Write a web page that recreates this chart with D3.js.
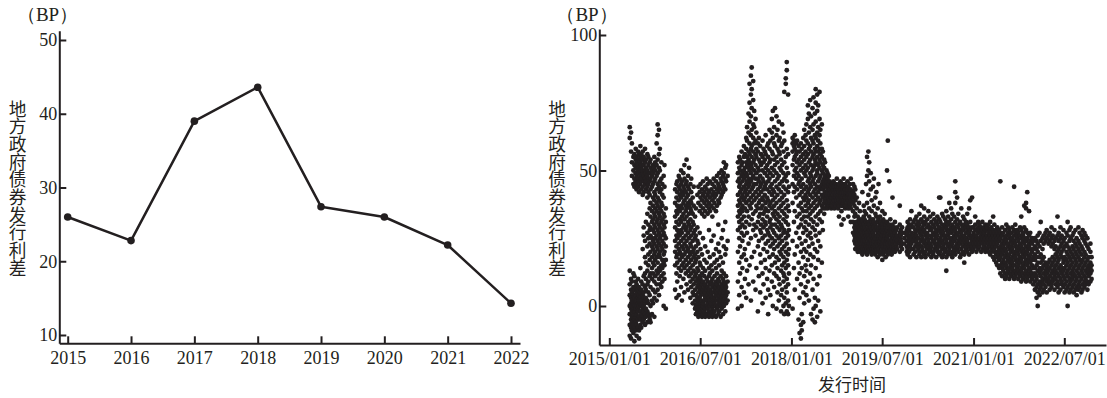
<!DOCTYPE html>
<html>
<head>
<meta charset="utf-8">
<script src="https://cdn.jsdelivr.net/npm/d3@7"></script>
<style>
body { margin: 0; background: #fff; }
</style>
</head>
<body>
<svg id="chart" width="1107" height="398"></svg>
<script>
// left: yearly average spread
var years = [2015, 2016, 2017, 2018, 2019, 2020, 2021, 2022]
var avgSpread = [26.0, 22.8, 39.0, 43.6, 27.4, 26.0, 22.2, 14.3]
var leftTicks = [10, 20, 30, 40, 50]

// right: issue spreads, one row per issue date
var rightTicks = [0, 50, 100]
var dateTicks = ["2015/01/01", "2016/07/01", "2018/01/01", "2019/07/01", "2021/01/01", "2022/07/01"]

var spreads2015 = [
  ["2015-05-04", [-11, -7, -3, 0, 4, 8, 13, 62, 66]],
  ["2015-05-12", [-12, -8, -5, -1, 1, 3, 6, 10, 57, 64]],
  ["2015-05-17", [-9, -6, -4, -2, 0, 2, 5, 9, 48, 53, 60]],
  ["2015-05-26", [-10, -7, -3, -1, 1, 4, 7, 12, 45, 50, 55]],
  ["2015-06-01", [-13, -8, -5, -2, 0, 2, 3, 6, 11, 44, 47, 52, 56]],
  ["2015-06-09", [-9, -6, -4, -1, 1, 4, 7, 9, 46, 49, 51, 54, 58]],
  ["2015-06-14", [-11, -7, -3, 0, 2, 5, 8, 43, 45, 48, 53, 55]],
  ["2015-06-23", [-8, -5, -2, -1, 1, 3, 6, 10, 44, 47, 50, 52, 57]],
  ["2015-06-29", [-12, -9, -4, 0, 2, 4, 7, 42, 46, 49, 51, 54, 56]],
  ["2015-07-07", [-7, -5, -2, 1, 3, 5, 14, 45, 48, 50, 53, 55, 59]],
  ["2015-07-12", [-8, -3, 0, 2, 6, 9, 43, 46, 47, 51, 52, 56]],
  ["2015-07-21", [-6, -4, -1, 1, 4, 8, 21, 41, 44, 49, 50, 54, 57]],
  ["2015-07-27", [-5, -2, 0, 3, 5, 11, 26, 29, 42, 46, 48, 52, 55]],
  ["2015-08-04", [-7, -3, 1, 2, 7, 12, 18, 24, 45, 47, 50, 53, 58]],
  ["2015-08-09", [-4, -1, 3, 6, 10, 16, 31, 43, 46, 49, 51, 54]],
  ["2015-08-18", [-6, -2, 2, 8, 13, 22, 27, 34, 40, 44, 48, 50, 56]],
  ["2015-08-24", [-3, 1, 5, 9, 15, 19, 25, 30, 42, 45, 47, 52, 55]],
  ["2015-09-01", [-5, -4, 4, 11, 17, 23, 28, 36, 41, 46, 49, 53]],
  ["2015-09-06", [-6, 0, 7, 12, 20, 26, 29, 33, 38, 43, 47, 51, 54]],
  ["2015-09-15", [-3, 2, 10, 14, 18, 22, 25, 31, 35, 44, 48, 50]],
  ["2015-09-21", [1, 6, 12, 16, 21, 24, 28, 32, 37, 40, 45, 49, 52]],
  ["2015-09-29", [-4, 3, 9, 15, 19, 23, 27, 30, 34, 39, 42, 46, 51, 55]],
  ["2015-10-04", [5, 11, 17, 20, 25, 29, 33, 36, 41, 47, 50, 53]],
  ["2015-10-13", [2, 8, 13, 18, 22, 26, 31, 35, 38, 43, 48, 52, 60]],
  ["2015-10-19", [6, 12, 16, 21, 24, 28, 32, 37, 40, 45, 49, 54, 63, 67]],
  ["2015-10-27", [4, 10, 14, 19, 23, 27, 30, 34, 39, 44, 51, 56, 65]],
  ["2015-11-01", [8, 13, 18, 20, 25, 29, 33, 36, 42, 46, 50, 58]],
  ["2015-11-10", [7, 11, 15, 22, 26, 31, 35, 38, 43, 47, 53]],
  ["2015-11-16", [9, 14, 17, 21, 24, 28, 32, 37, 41, 45]],
  ["2015-11-24", [0, 12, 16, 19, 23, 27, 30, 34, 40, 48]],
  ["2015-11-29", [10, 15, 20, 26, 29, 33, 44, 52]],
  ["2015-12-07", [-1, 17, 22, 25, 31, 36]]
]

var spreads2016 = [
  ["2016-02-01", [6, 15, 20, 24, 29, 33, 38, 43]],
  ["2016-02-09", [3, 12, 18, 22, 26, 31, 35, 40, 45]],
  ["2016-02-14", [9, 16, 19, 25, 28, 34, 37, 42, 46]],
  ["2016-02-23", [4, 14, 21, 23, 27, 30, 36, 39, 44, 48]],
  ["2016-02-29", [11, 17, 20, 26, 32, 35, 41, 43, 47]],
  ["2016-03-08", [7, 13, 19, 24, 28, 31, 37, 40, 45, 50]],
  ["2016-03-13", [2, 15, 18, 22, 27, 33, 36, 42, 46]],
  ["2016-03-22", [10, 16, 21, 25, 29, 34, 38, 41, 44, 49]],
  ["2016-03-28", [5, 14, 19, 23, 30, 32, 39, 43, 47, 52]],
  ["2016-04-05", [12, 17, 20, 26, 28, 35, 37, 42, 45]],
  ["2016-04-10", [8, 15, 22, 24, 29, 33, 36, 40, 46, 54]],
  ["2016-04-19", [6, 13, 18, 21, 27, 31, 38, 41, 44, 48]],
  ["2016-04-25", [11, 16, 20, 25, 30, 34, 37, 43, 51]],
  ["2016-05-03", [3, 9, 14, 19, 23, 28, 32, 36, 39, 45]],
  ["2016-05-08", [7, 12, 17, 22, 26, 29, 35, 38, 42, 47]],
  ["2016-05-17", [1, 5, 10, 15, 20, 24, 31, 34, 40]],
  ["2016-05-23", [4, 8, 13, 18, 21, 27, 30, 37, 44]],
  ["2016-05-31", [-1, 2, 6, 11, 16, 19, 25, 28, 33]],
  ["2016-06-05", [-3, 0, 4, 9, 12, 17, 22, 26, 36]],
  ["2016-06-14", [-2, 1, 3, 7, 10, 14, 20, 24, 29, 41]],
  ["2016-06-20", [-4, -1, 2, 5, 8, 13, 18, 23, 38, 44]],
  ["2016-06-28", [-3, 0, 3, 6, 9, 11, 16, 27, 35, 42]],
  ["2016-07-03", [-2, 1, 4, 7, 10, 15, 21, 37, 40, 45]],
  ["2016-07-12", [-4, -1, 2, 5, 8, 12, 19, 34, 39, 43]],
  ["2016-07-18", [-3, 0, 1, 6, 9, 14, 25, 36, 41, 46]],
  ["2016-07-26", [-2, 2, 4, 7, 11, 17, 33, 38, 42]],
  ["2016-07-31", [-4, -1, 3, 5, 8, 13, 22, 35, 40, 44]],
  ["2016-08-09", [-3, 0, 2, 6, 10, 16, 37, 39, 43, 47]],
  ["2016-08-15", [-1, 1, 4, 7, 9, 20, 34, 41, 45]],
  ["2016-08-23", [-4, -2, 3, 5, 11, 14, 28, 36, 38, 42]],
  ["2016-08-28", [-3, 0, 2, 6, 8, 12, 18, 35, 40, 46]],
  ["2016-09-06", [-2, 1, 4, 5, 9, 15, 24, 37, 43]],
  ["2016-09-12", [-4, -1, 3, 7, 10, 13, 33, 39, 41, 45]],
  ["2016-09-20", [-3, 0, 2, 5, 8, 19, 26, 36, 42, 47]],
  ["2016-09-25", [-2, 1, 3, 6, 11, 16, 38, 40, 44]],
  ["2016-10-04", [-4, 0, 4, 7, 9, 14, 21, 35, 41, 46]],
  ["2016-10-10", [-1, 2, 5, 8, 12, 17, 37, 43, 48]],
  ["2016-10-18", [-3, 0, 3, 6, 10, 23, 30, 39, 42, 45]],
  ["2016-10-23", [-2, 1, 4, 7, 9, 15, 20, 38, 44, 49]],
  ["2016-11-01", [-4, 0, 2, 5, 11, 18, 40, 43, 47]],
  ["2016-11-07", [-1, 3, 6, 8, 13, 25, 41, 46, 50]],
  ["2016-11-15", [-3, 1, 4, 7, 10, 16, 28, 42, 45, 48]],
  ["2016-11-20", [0, 2, 5, 9, 12, 22, 44, 49, 53]],
  ["2016-11-29", [-2, 3, 6, 8, 19, 31, 43, 47, 51]],
  ["2016-12-04", [1, 4, 7, 11, 21, 46, 52]],
  ["2016-12-13", [2, 5, 9, 24, 48]]
]

var spreads2017 = [
  ["2017-02-13", [-1, 9, 20, 28, 33, 37, 41, 46, 49, 53]],
  ["2017-02-21", [4, 16, 25, 31, 35, 39, 44, 47, 51, 55]],
  ["2017-02-26", [12, 22, 29, 34, 38, 42, 45, 50, 54]],
  ["2017-03-07", [0, 7, 18, 27, 32, 36, 40, 43, 48, 52, 57]],
  ["2017-03-12", [14, 24, 30, 35, 37, 41, 46, 49, 53]],
  ["2017-03-21", [5, 19, 26, 33, 39, 44, 47, 50, 55, 59]],
  ["2017-03-27", [10, 21, 29, 36, 40, 42, 48, 51, 56]],
  ["2017-04-04", [3, 17, 31, 38, 43, 45, 49, 53, 58, 62]],
  ["2017-04-09", [13, 27, 35, 41, 46, 48, 52, 55, 61, 66]],
  ["2017-04-18", [8, 23, 33, 39, 44, 47, 51, 54, 57, 64, 71]],
  ["2017-04-24", [15, 30, 37, 42, 45, 50, 53, 56, 60, 68, 75, 82]],
  ["2017-05-02", [2, 25, 36, 40, 46, 49, 52, 58, 63, 70, 78, 85]],
  ["2017-05-07", [18, 32, 38, 43, 47, 51, 55, 59, 65, 73, 80, 88]],
  ["2017-05-16", [9, 28, 34, 41, 44, 48, 53, 57, 62, 67, 76, 83]],
  ["2017-05-22", [20, 30, 39, 45, 50, 54, 60, 66, 72]],
  ["2017-05-30", [6, 26, 35, 42, 47, 52, 56, 61, 69]],
  ["2017-06-04", [14, 29, 37, 40, 45, 49, 55, 58, 64]],
  ["2017-06-13", [-2, 22, 31, 36, 43, 47, 51, 57, 60]],
  ["2017-06-19", [11, 24, 33, 38, 41, 46, 50, 54, 62]],
  ["2017-06-27", [5, 19, 28, 34, 39, 44, 48, 53, 59]],
  ["2017-07-02", [16, 27, 30, 36, 42, 45, 52, 56]],
  ["2017-07-11", [1, 12, 25, 32, 37, 40, 47, 50, 55, 61]],
  ["2017-07-17", [8, 21, 29, 34, 39, 43, 46, 53, 58]],
  ["2017-07-25", [17, 26, 31, 35, 41, 44, 49, 54, 57]],
  ["2017-07-30", [3, 14, 23, 30, 36, 38, 45, 51, 56, 63]],
  ["2017-08-08", [10, 20, 28, 33, 40, 43, 48, 52, 59]],
  ["2017-08-14", [-3, 6, 24, 27, 35, 39, 46, 50, 55, 60]],
  ["2017-08-22", [13, 18, 26, 31, 37, 42, 47, 53, 58, 65]],
  ["2017-08-27", [4, 22, 29, 32, 38, 44, 49, 54, 61]],
  ["2017-09-05", [9, 15, 25, 30, 36, 41, 45, 51, 57, 64, 69]],
  ["2017-09-11", [0, 19, 23, 28, 34, 39, 43, 48, 56, 62, 72]],
  ["2017-09-19", [7, 12, 21, 27, 33, 37, 42, 50, 54, 60, 66]],
  ["2017-09-24", [16, 24, 30, 35, 40, 46, 52, 59, 73]],
  ["2017-10-03", [-1, 11, 18, 26, 32, 38, 44, 49, 55, 63, 70]],
  ["2017-10-09", [5, 14, 22, 29, 34, 41, 47, 53, 58, 65]],
  ["2017-10-17", [2, 10, 17, 25, 31, 36, 43, 48, 57, 61, 68]],
  ["2017-10-22", [8, 20, 23, 28, 33, 39, 45, 51, 56, 62]],
  ["2017-10-31", [-2, 4, 13, 19, 26, 30, 37, 42, 50, 54, 59]],
  ["2017-11-06", [6, 15, 21, 24, 29, 35, 40, 46, 52, 60, 67]],
  ["2017-11-14", [0, 9, 12, 18, 27, 32, 38, 44, 49, 57, 64]],
  ["2017-11-19", [-3, 3, 11, 16, 22, 28, 34, 41, 47, 53, 61, 79]],
  ["2017-11-28", [1, 7, 14, 20, 25, 31, 36, 43, 48, 55, 82, 84]],
  ["2017-12-04", [-2, 5, 10, 17, 23, 27, 33, 39, 46, 51, 58, 87, 90]],
  ["2017-12-12", [-3, 2, 8, 15, 19, 26, 30, 37, 42, 49, 56, 78]],
  ["2017-12-17", [0, 12, 21, 28, 35, 44]]
]

var spreads2018 = [
  ["2018-01-08", [-1, 24, 38, 45, 52, 57, 60, 62]],
  ["2018-01-16", [14, 31, 42, 48, 54, 59, 61]],
  ["2018-01-21", [6, 19, 35, 44, 50, 55, 58, 63]],
  ["2018-01-30", [27, 40, 47, 51, 56, 60]],
  ["2018-02-04", [10, 22, 33, 43, 49, 53, 57, 61]],
  ["2018-02-13", [-5, 16, 29, 37, 45, 48, 54, 59]],
  ["2018-02-19", [-10, 3, 12, 25, 34, 41, 46, 52, 57]],
  ["2018-02-27", [-12, -7, 8, 20, 30, 38, 44, 50, 55, 60]],
  ["2018-03-04", [-9, -3, 14, 23, 32, 36, 42, 47, 53, 58]],
  ["2018-03-13", [-6, 5, 18, 27, 35, 40, 45, 51, 56, 62]],
  ["2018-03-19", [1, 11, 21, 29, 33, 39, 43, 49, 54, 59, 65]],
  ["2018-03-27", [7, 15, 24, 31, 37, 41, 48, 52, 57, 63]],
  ["2018-04-01", [4, 13, 20, 28, 35, 40, 44, 50, 55, 61, 67]],
  ["2018-04-10", [9, 17, 26, 33, 38, 42, 46, 51, 56, 60, 69, 74]],
  ["2018-04-16", [2, 22, 30, 36, 39, 43, 47, 53, 58, 64, 71]],
  ["2018-04-24", [12, 19, 27, 34, 41, 45, 49, 54, 59, 66, 76]],
  ["2018-04-29", [-3, 15, 25, 32, 37, 44, 48, 52, 57, 62, 70]],
  ["2018-05-08", [-5, 6, 23, 29, 35, 40, 46, 50, 55, 61, 65, 73]],
  ["2018-05-14", [-1, 10, 18, 31, 38, 42, 47, 51, 56, 60, 67, 77]],
  ["2018-05-22", [-6, 3, 21, 28, 36, 43, 45, 52, 54, 58, 63, 71]],
  ["2018-05-27", [0, 14, 26, 33, 39, 41, 48, 53, 57, 62, 68, 75, 80]],
  ["2018-06-05", [-4, 8, 20, 30, 37, 44, 49, 50, 55, 59, 64, 72, 78]],
  ["2018-06-11", [2, 17, 24, 34, 40, 42, 46, 52, 57, 61, 66, 74]],
  ["2018-06-19", [11, 27, 32, 38, 43, 47, 51, 54, 58, 63, 69, 79]],
  ["2018-06-24", [-2, 22, 35, 39, 44, 48, 53, 56, 60, 65]],
  ["2018-07-03", [16, 31, 37, 41, 45, 50, 55, 58, 67]],
  ["2018-07-09", [28, 36, 40, 43, 46, 49, 52, 57]],
  ["2018-07-17", [34, 38, 41, 44, 47, 51, 54]],
  ["2018-07-22", [36, 39, 42, 45, 48, 53]],
  ["2018-07-31", [37, 40, 41, 44, 46, 50]],
  ["2018-08-06", [36, 38, 42, 43, 47, 49]],
  ["2018-08-14", [37, 39, 40, 44, 45, 48]],
  ["2018-08-19", [38, 39, 41, 43, 46]],
  ["2018-08-28", [36, 37, 40, 42, 44, 45]],
  ["2018-09-03", [37, 39, 40, 42, 45]],
  ["2018-09-11", [38, 40, 41, 43, 44, 46]],
  ["2018-09-16", [36, 38, 39, 42, 44]],
  ["2018-09-25", [37, 40, 41, 43, 45]],
  ["2018-10-01", [38, 39, 42, 44, 47]],
  ["2018-10-09", [36, 38, 40, 41, 43]],
  ["2018-10-14", [33, 37, 39, 42, 44, 45]],
  ["2018-10-23", [38, 40, 41, 43, 46]],
  ["2018-10-29", [30, 35, 37, 39, 42, 44]],
  ["2018-11-06", [37, 38, 40, 43, 45]],
  ["2018-11-11", [32, 38, 39, 41, 42, 44, 47]],
  ["2018-11-20", [36, 37, 40, 43, 45]],
  ["2018-11-26", [37, 39, 41, 42, 44]],
  ["2018-12-04", [38, 40, 42, 43, 46]],
  ["2018-12-09", [33, 36, 39, 41, 44]],
  ["2018-12-18", [37, 38, 40, 42, 45]],
  ["2018-12-24", [31, 36, 39, 41, 43, 47]]
]

var spreads2019 = [
  ["2019-01-07", [27, 31, 35, 38, 40, 42, 45]],
  ["2019-01-15", [24, 26, 29, 33, 37, 41, 44]],
  ["2019-01-20", [21, 23, 25, 28, 30, 34, 39, 43]],
  ["2019-01-29", [22, 24, 27, 29, 31, 36, 40]],
  ["2019-02-04", [20, 23, 26, 28, 30, 33]],
  ["2019-02-12", [21, 22, 25, 27, 29, 32, 38]],
  ["2019-02-17", [20, 24, 26, 28, 31, 35]],
  ["2019-02-26", [22, 23, 25, 27, 30, 32]],
  ["2019-03-04", [19, 21, 24, 26, 29, 31, 42]],
  ["2019-03-12", [20, 22, 25, 28, 30, 33, 37]],
  ["2019-03-17", [21, 23, 24, 27, 29, 32, 35]],
  ["2019-03-26", [20, 22, 26, 28, 31, 34, 45]],
  ["2019-04-01", [19, 21, 23, 25, 27, 30, 38, 48, 55]],
  ["2019-04-09", [20, 22, 24, 26, 29, 31, 41, 50, 57]],
  ["2019-04-14", [21, 23, 25, 28, 30, 33, 36, 46, 53]],
  ["2019-04-23", [20, 22, 24, 27, 29, 32, 43, 49]],
  ["2019-04-29", [19, 21, 23, 26, 28, 31, 35, 39]],
  ["2019-05-07", [20, 22, 25, 27, 30, 32, 44]],
  ["2019-05-12", [21, 23, 24, 26, 29, 31, 37, 47]],
  ["2019-05-21", [19, 22, 25, 28, 30, 34, 40]],
  ["2019-05-27", [20, 21, 23, 26, 29, 33, 42]],
  ["2019-06-04", [18, 22, 24, 27, 28, 31, 36]],
  ["2019-06-09", [20, 21, 25, 26, 29, 32, 45]],
  ["2019-06-18", [19, 23, 24, 27, 30, 33, 38]],
  ["2019-06-24", [20, 22, 25, 28, 29, 31]],
  ["2019-07-02", [17, 21, 23, 26, 28, 30, 35]],
  ["2019-07-07", [19, 22, 24, 27, 29, 32]],
  ["2019-07-16", [20, 21, 25, 26, 28, 31, 34]],
  ["2019-07-22", [18, 22, 23, 27, 29, 30]],
  ["2019-07-30", [20, 24, 25, 28, 31, 50]],
  ["2019-08-04", [19, 21, 23, 26, 29, 61]],
  ["2019-08-13", [20, 22, 24, 27, 30, 46]],
  ["2019-08-19", [21, 23, 26, 28, 32]],
  ["2019-08-27", [19, 22, 25, 27, 29]],
  ["2019-09-01", [20, 23, 24, 26, 30, 40]],
  ["2019-09-10", [21, 22, 25, 28, 29]],
  ["2019-09-16", [20, 24, 26, 27, 31]],
  ["2019-09-24", [22, 23, 25, 28]],
  ["2019-09-29", [21, 24, 26, 29]],
  ["2019-10-15", [20, 23, 25, 27, 30, 37]],
  ["2019-10-21", [22, 24, 26, 28]],
  ["2019-10-29", [21, 23, 27, 29]],
  ["2019-11-11", [23, 25, 27]],
  ["2019-11-26", [20, 22, 24, 26, 28]],
  ["2019-12-01", [19, 21, 24, 27, 29, 31]],
  ["2019-12-10", [20, 23, 25, 28, 30]],
  ["2019-12-16", [18, 22, 24, 26, 29, 32]],
  ["2019-12-24", [21, 23, 25, 27, 30, 35]]
]

var spreads2020 = [
  ["2020-01-06", [19, 21, 24, 26, 29, 31]],
  ["2020-01-16", [20, 22, 25, 27, 28, 32]],
  ["2020-01-23", [18, 23, 24, 26, 30, 33]],
  ["2020-02-03", [21, 22, 25, 28, 29, 31]],
  ["2020-02-10", [19, 20, 23, 27, 30, 34]],
  ["2020-02-21", [18, 22, 24, 26, 28, 32, 37]],
  ["2020-02-28", [20, 21, 25, 27, 29, 31]],
  ["2020-03-10", [19, 23, 24, 28, 30, 33, 36]],
  ["2020-03-17", [18, 20, 22, 26, 27, 31]],
  ["2020-03-28", [21, 23, 25, 27, 29, 32]],
  ["2020-04-04", [19, 22, 24, 26, 30, 35]],
  ["2020-04-15", [20, 21, 23, 28, 29, 33]],
  ["2020-04-22", [18, 22, 25, 26, 28, 31]],
  ["2020-05-03", [19, 20, 24, 27, 30, 34]],
  ["2020-05-10", [21, 23, 24, 26, 29, 32]],
  ["2020-05-21", [18, 22, 25, 27, 28, 31]],
  ["2020-05-28", [20, 21, 23, 26, 30, 33]],
  ["2020-06-08", [19, 22, 24, 28, 29, 32, 40]],
  ["2020-06-15", [20, 23, 25, 27, 31, 40]],
  ["2020-06-26", [18, 21, 24, 26, 28, 30, 34]],
  ["2020-07-03", [19, 22, 23, 27, 29, 33]],
  ["2020-07-14", [20, 21, 25, 26, 30, 32]],
  ["2020-07-21", [13, 18, 23, 24, 28, 29, 31, 35]],
  ["2020-08-01", [19, 20, 22, 26, 27, 30, 33]],
  ["2020-08-08", [21, 23, 25, 28, 31, 38]],
  ["2020-08-19", [19, 22, 24, 27, 29, 32, 36]],
  ["2020-08-26", [18, 20, 23, 25, 28, 30, 34]],
  ["2020-09-06", [20, 21, 24, 26, 29, 33]],
  ["2020-09-13", [19, 22, 25, 27, 28, 31, 38, 42, 46]],
  ["2020-09-24", [21, 23, 26, 30, 32, 40]],
  ["2020-10-01", [20, 22, 24, 27, 29, 34]],
  ["2020-10-12", [18, 23, 25, 28, 31]],
  ["2020-10-19", [19, 21, 24, 26, 27, 30, 36]],
  ["2020-10-30", [20, 22, 25, 28, 29, 33]],
  ["2020-11-06", [16, 19, 23, 24, 26, 30, 32]],
  ["2020-11-17", [21, 22, 25, 27, 29, 31]],
  ["2020-11-24", [20, 23, 24, 28, 30, 34]],
  ["2020-12-05", [19, 22, 26, 27, 29, 36]],
  ["2020-12-12", [21, 23, 25, 28, 31, 39]],
  ["2020-12-23", [20, 22, 24, 26, 29, 40]]
]

var spreads2021 = [
  ["2021-01-01", [21, 23, 25, 27, 29]],
  ["2021-01-11", [22, 24, 26, 28, 30, 33]],
  ["2021-01-18", [20, 23, 25, 26, 28]],
  ["2021-01-29", [21, 22, 24, 27, 29, 31]],
  ["2021-02-05", [22, 23, 25, 28, 30]],
  ["2021-02-16", [20, 24, 26, 27, 29]],
  ["2021-02-23", [21, 23, 25, 28, 31]],
  ["2021-03-06", [22, 24, 26, 27, 29]],
  ["2021-03-13", [20, 21, 23, 25, 28, 30]],
  ["2021-03-24", [21, 24, 26, 28, 29]],
  ["2021-03-31", [20, 22, 23, 25, 27, 30]],
  ["2021-04-11", [19, 22, 24, 26, 28, 31]],
  ["2021-04-18", [20, 21, 23, 25, 27, 29]],
  ["2021-04-29", [18, 22, 24, 26, 28, 33]],
  ["2021-05-06", [17, 20, 21, 23, 25, 27, 30]],
  ["2021-05-17", [16, 19, 22, 24, 26, 28]],
  ["2021-05-24", [15, 18, 20, 23, 25, 27, 29]],
  ["2021-06-04", [14, 17, 19, 21, 24, 26, 28]],
  ["2021-06-11", [12, 15, 18, 20, 22, 25, 27, 46]],
  ["2021-06-22", [11, 14, 16, 19, 21, 23, 26, 29]],
  ["2021-06-29", [13, 15, 17, 20, 22, 24, 27]],
  ["2021-07-10", [10, 12, 16, 18, 21, 23, 25, 28]],
  ["2021-07-17", [11, 14, 15, 19, 20, 24, 26, 30]],
  ["2021-07-28", [12, 13, 17, 18, 22, 23, 27, 29]],
  ["2021-08-04", [10, 14, 16, 19, 21, 25, 26, 28]],
  ["2021-08-15", [11, 12, 15, 17, 20, 22, 24, 27]],
  ["2021-08-22", [13, 14, 16, 18, 21, 23, 25, 29]],
  ["2021-09-02", [10, 12, 15, 19, 20, 24, 26, 28, 44]],
  ["2021-09-09", [11, 13, 17, 18, 22, 23, 27, 30]],
  ["2021-09-20", [12, 14, 16, 20, 21, 25, 26, 28]],
  ["2021-09-27", [10, 13, 15, 17, 19, 22, 24, 27]],
  ["2021-10-08", [11, 12, 16, 18, 21, 23, 26, 29]],
  ["2021-10-15", [9, 13, 14, 17, 20, 22, 25, 28, 33]],
  ["2021-10-26", [10, 12, 15, 19, 21, 24, 26, 27]],
  ["2021-11-02", [11, 14, 16, 18, 20, 23, 25, 29, 37]],
  ["2021-11-13", [9, 12, 13, 17, 19, 22, 24, 28, 36, 38]],
  ["2021-11-20", [10, 11, 15, 16, 20, 21, 25, 27, 42]],
  ["2021-12-01", [12, 14, 17, 18, 22, 23, 26, 35]],
  ["2021-12-08", [9, 11, 13, 16, 19, 21, 24, 27]],
  ["2021-12-19", [10, 12, 15, 17, 20, 23, 25]],
  ["2021-12-26", [8, 11, 14, 18, 21, 24]]
]

var spreads2022 = [
  ["2022-01-05", [6, 9, 12, 14, 17, 19, 22, 25]],
  ["2022-01-15", [3, 7, 10, 11, 15, 18, 21, 24]],
  ["2022-01-22", [0, 5, 8, 13, 16, 20, 23, 26]],
  ["2022-02-02", [4, 6, 9, 12, 14, 18, 22, 27]],
  ["2022-02-09", [7, 8, 11, 13, 16, 19, 24, 31]],
  ["2022-02-20", [5, 9, 10, 14, 17, 21, 25]],
  ["2022-02-27", [6, 8, 12, 15, 18, 23, 26]],
  ["2022-03-10", [7, 10, 11, 13, 16, 24, 27]],
  ["2022-03-17", [5, 9, 12, 14, 15, 25, 28]],
  ["2022-03-28", [8, 10, 13, 16, 23, 26]],
  ["2022-04-04", [6, 9, 11, 14, 17, 24, 27]],
  ["2022-04-15", [7, 8, 12, 15, 22, 25, 29]],
  ["2022-04-22", [9, 10, 13, 16, 18, 23, 26]],
  ["2022-05-03", [6, 11, 12, 14, 17, 21, 24, 28]],
  ["2022-05-10", [8, 10, 13, 15, 19, 22, 25]],
  ["2022-05-21", [7, 9, 12, 16, 18, 20, 26, 33]],
  ["2022-05-28", [5, 8, 11, 14, 17, 21, 24, 27]],
  ["2022-06-08", [6, 10, 13, 15, 19, 22, 25, 29]],
  ["2022-06-15", [8, 9, 12, 14, 18, 20, 23, 26]],
  ["2022-06-26", [7, 11, 13, 16, 17, 21, 24, 28]],
  ["2022-07-03", [5, 8, 10, 14, 18, 22, 25]],
  ["2022-07-14", [6, 9, 12, 15, 17, 20, 23, 27]],
  ["2022-07-21", [0, 7, 11, 13, 16, 19, 22, 26, 31]],
  ["2022-08-01", [5, 8, 10, 14, 18, 21, 24, 28]],
  ["2022-08-08", [6, 9, 12, 15, 17, 20, 25, 29]],
  ["2022-08-19", [7, 10, 11, 13, 16, 19, 22, 26]],
  ["2022-08-26", [5, 8, 12, 14, 18, 21, 24, 27]],
  ["2022-09-06", [6, 9, 11, 15, 17, 20, 23, 28]],
  ["2022-09-13", [4, 7, 10, 13, 16, 19, 22, 25]],
  ["2022-09-24", [6, 8, 12, 14, 18, 21, 24, 29]],
  ["2022-10-01", [7, 9, 11, 15, 17, 20, 23, 27]],
  ["2022-10-12", [5, 10, 13, 16, 19, 22, 26]],
  ["2022-10-19", [6, 8, 12, 14, 17, 21, 25, 28]],
  ["2022-10-30", [7, 9, 11, 15, 18, 20, 24, 27]],
  ["2022-11-06", [8, 10, 13, 16, 19, 23, 26]],
  ["2022-11-17", [6, 9, 12, 14, 17, 22, 25]],
  ["2022-11-24", [8, 11, 13, 15, 18, 21]],
  ["2022-12-05", [9, 12, 14, 16, 20, 23]],
  ["2022-12-12", [10, 13, 15, 18]]
]

var ink = "#231f20"
var serif = "'Liberation Serif', 'Times New Roman', serif"
var cjk = "'Noto Sans CJK SC', sans-serif"

var svg = d3.select("#chart")

// ---------- left chart ----------
var xL = d3.scaleLinear().domain([2015, 2022]).range([67.7, 511])
xL.domain([xL.invert(59.3), xL.invert(520)]).range([59.3, 520])
var yL = d3.scaleLinear().domain([10, 50]).range([335, 40])
yL.domain([yL.invert(343.3), yL.invert(30.7)]).range([343.3, 30.7])

var gx = svg.append("g")
    .attr("transform", "translate(0,343.3)")
    .call(d3.axisBottom(xL).tickValues(years).tickFormat(d3.format("d"))
        .tickSize(-7).tickSizeOuter(0).tickPadding(8))
var gy = svg.append("g")
    .attr("transform", "translate(59.3,0)")
    .call(d3.axisLeft(yL).tickValues(leftTicks).tickSize(-7).tickSizeOuter(0).tickPadding(2))

var line = d3.line()
    .x(function(d, i) { return xL(years[i]) })
    .y(function(d) { return yL(d) })

svg.append("path")
    .datum(avgSpread)
    .attr("d", line)
    .attr("fill", "none")
    .attr("stroke", ink)
    .attr("stroke-width", 2.5)
    .attr("stroke-linejoin", "round")

svg.append("g").selectAll("circle")
    .data(avgSpread)
    .enter().append("circle")
        .attr("cx", function(d, i) { return xL(years[i]) })
        .attr("cy", function(d) { return yL(d) })
        .attr("r", 3.8)
        .attr("fill", ink)

// ---------- right chart ----------
var parse = d3.timeParse("%Y-%m-%d")
var parseTick = d3.timeParse("%Y/%m/%d")
var xR = d3.scaleTime().domain([parseTick("2015/01/01"), parseTick("2022/07/01")]).range([609.3, 1064.3])
xR.domain([xR.invert(599.3), xR.invert(1106)]).range([599.3, 1106])
var yR = d3.scaleLinear().domain([0, 100]).range([306, 35])
yR.domain([yR.invert(345), yR.invert(29)]).range([345, 29])

var gx2 = svg.append("g")
    .attr("transform", "translate(0,345)")
    .call(d3.axisBottom(xR).tickValues(dateTicks.map(parseTick)).tickFormat(d3.timeFormat("%Y/%m/%d"))
        .tickSize(-7).tickSizeOuter(0).tickPadding(7))
var gy2 = svg.append("g")
    .attr("transform", "translate(599.3,0)")
    .call(d3.axisLeft(yR).tickValues(rightTicks).tickSize(-7).tickSizeOuter(0).tickPadding(2))

var allYears = [spreads2015, spreads2016, spreads2017, spreads2018, spreads2019, spreads2020, spreads2021, spreads2022]
var points = []
allYears.forEach(function(rows) {
    rows.forEach(function(row) {
        row[1].forEach(function(v) { points.push({date: parse(row[0]), v: v}) })
    })
})

svg.append("g").selectAll("circle")
    .data(points)
    .enter().append("circle")
        .attr("cx", function(d) { return xR(d.date) })
        .attr("cy", function(d) { return yR(d.v) })
        .attr("r", 2.4)
        .attr("fill", ink)

// axis styling
;[gx, gy, gx2, gy2].forEach(function(g) {
    g.attr("font-family", serif).attr("font-size", 18).attr("color", ink)
    g.selectAll("path, line").attr("stroke-width", 2)
    g.selectAll("text").attr("fill", ink)
})

// titles
svg.append("text").attr("x", 47.5).attr("y", 21).attr("text-anchor", "middle")
    .attr("font-family", serif).attr("font-size", 19).attr("fill", ink).text("（BP）")
svg.append("text").attr("x", 587).attr("y", 21).attr("text-anchor", "middle")
    .attr("font-family", serif).attr("font-size", 19).attr("fill", ink).text("（BP）")

svg.append("text").attr("x", 17.5).attr("y", 100)
    .style("writing-mode", "vertical-rl").style("text-orientation", "upright")
    .attr("font-family", cjk).attr("font-size", 17.7).attr("fill", ink)
    .text("地方政府债券发行利差")
svg.append("text").attr("x", 557).attr("y", 100)
    .style("writing-mode", "vertical-rl").style("text-orientation", "upright")
    .attr("font-family", cjk).attr("font-size", 17.7).attr("fill", ink)
    .text("地方政府债券发行利差")

svg.append("text").attr("x", 852).attr("y", 391).attr("text-anchor", "middle")
    .attr("font-family", cjk).attr("font-size", 17).attr("fill", ink).text("发行时间")
</script>
</body>
</html>
